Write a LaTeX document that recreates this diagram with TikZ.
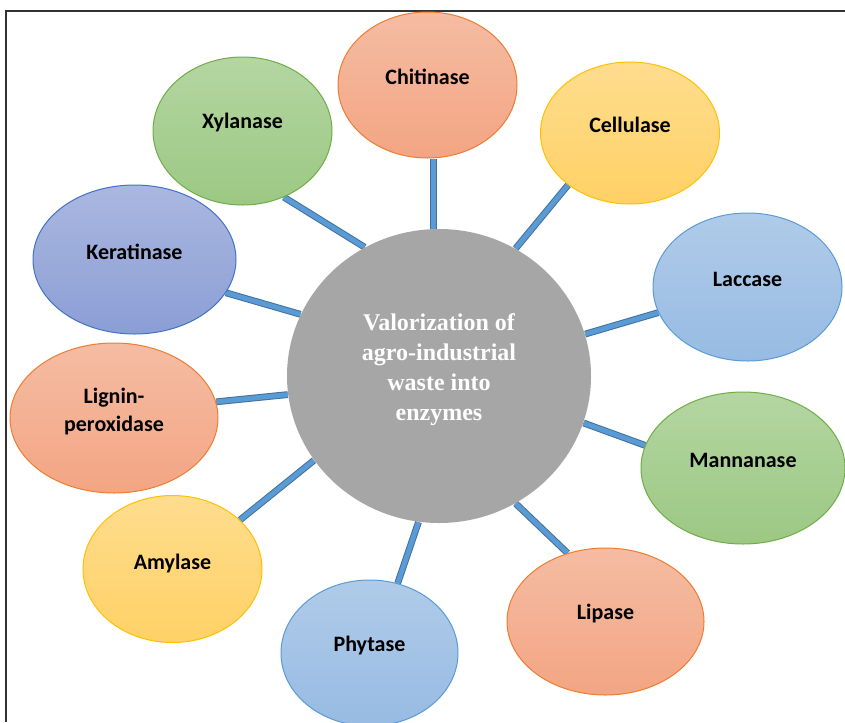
\documentclass[tikz,border=0pt]{standalone}
\usepackage{fontspec}
\setmainfont{Liberation Serif}
\newfontfamily\labfont{Carlito}
\usetikzlibrary{backgrounds,shapes.geometric}
\definecolor{orT}{HTML}{F5BCA3}
\definecolor{orB}{HTML}{F3A583}
\definecolor{orE}{HTML}{ED7D31}
\definecolor{grT}{HTML}{B4D6A2}
\definecolor{grB}{HTML}{9CC883}
\definecolor{grE}{HTML}{70AD47}
\definecolor{yeT}{HTML}{FFDD8E}
\definecolor{yeB}{HTML}{FFD166}
\definecolor{yeE}{HTML}{FFC000}
\definecolor{lbT}{HTML}{B0CBE9}
\definecolor{lbB}{HTML}{97BBE3}
\definecolor{lbE}{HTML}{5B9BD5}
\definecolor{puT}{HTML}{AAB8E0}
\definecolor{puB}{HTML}{8B9ED5}
\definecolor{puE}{HTML}{4472C4}
\definecolor{hubgray}{HTML}{A6A6A6}
\definecolor{linkfill}{HTML}{5B9BD5}
\definecolor{linkedge}{HTML}{41719C}
\definecolor{framec}{HTML}{333333}
\begin{document}
\begin{tikzpicture}[x=0.75pt,y=-0.75pt,
  bub/.style n args={2}{ellipse, inner sep=0pt, line width=0.75pt,
    minimum width=#1*0.75pt, minimum height=#2*0.75pt},
  orange/.style={draw=orE, top color=orT, bottom color=orB},
  green/.style={draw=grE, top color=grT, bottom color=grB},
  yellow/.style={draw=yeE, top color=yeT, bottom color=yeB},
  lblue/.style={draw=lbE, top color=lbT, bottom color=lbB},
  purple/.style={draw=puE, top color=puT, bottom color=puB},
  lab/.style={font=\labfont\bfseries\fontsize{16.5}{21}\selectfont, text=black, align=center, inner sep=0pt},
  hubtext/.style={font=\bfseries\fontsize{18}{22.5}\selectfont, text=white, align=center, inner sep=0pt},
  link/.style={draw=linkedge, line width=0.75pt, double=linkfill, double distance=3.6pt}
]
\useasboundingbox (0,0) rectangle (845,722);
\draw[framec, line width=0.9pt] (6,722) -- (6,11) -- (845,11);

% hub
\node[bub={304}{294}, fill=hubgray] (hub) at (439,376) {};
\node[hubtext] (hubt) at ([yshift=5pt]hub.center) {Valorization of\\agro-industrial\\waste into\\enzymes};

% enzymes
\node[bub={179}{146}, orange] (chi) at (427.5,85) {};
\node[bub={179}{142}, yellow] (cel) at (630,133) {};
\node[bub={189}{148}, lblue]  (lac) at (747.5,287) {};
\node[bub={204}{152}, green]  (man) at (743,468) {};
\node[bub={197}{147}, orange] (lip) at (605.5,621.5) {};
\node[bub={177}{146}, lblue]  (phy) at (369.5,653) {};
\node[bub={179}{147}, yellow] (amy) at (172.5,569) {};
\node[bub={208}{150}, orange] (lig) at (114,418) {};
\node[bub={203}{149}, purple] (ker) at (134.5,259.5) {};
\node[bub={179}{148}, green]  (xyl) at (242.5,131) {};

\node[lab] (chit) at ([yshift=6pt]chi.center) {Chitinase};
\node[lab] (celt) at ([yshift=6pt]cel.center) {Cellulase};
\node[lab] (lact) at ([yshift=6pt]lac.center) {Laccase};
\node[lab] (mant) at ([yshift=6pt]man.center) {Mannanase};
\node[lab] (lipt) at ([yshift=6pt]lip.center) {Lipase};
\node[lab] (phyt) at ([yshift=6pt]phy.center) {Phytase};
\node[lab] (amyt) at ([yshift=4pt]amy.center) {Amylase};
\node[lab] (ligt) at ([yshift=5pt]lig.center) {Lignin-\\peroxidase};
\node[lab] (kert) at ([yshift=6pt]ker.center) {Keratinase};
\node[lab] (xylt) at ([yshift=6pt]xyl.center) {Xylanase};

% connectors
\begin{pgfonlayer}{background}
\fill[white] (0,0) rectangle (845,722);
\draw[link] (hub.92.3) -- (hub.92.3 |- chi.south);
\draw[link] (hub.59.3) -- (cel.220.9);
\draw[link] (hub.16.8) -- (lac.196.2);
\draw[link] (hub.-18.9) -- (man.167.3);
\draw[link] (hub.-59.1) -- (lip.119.0);
\draw[link] (hub.262.6) -- (phy.68.4);
\draw[link] (hub.214.4) -- (amy.36.2);
\draw[link] (hub.187.1) -- (lig.9.0);
\draw[link] (hub.156.8) -- (ker.-20.3);
\draw[link] (hub.120.1) -- (xyl.-58.5);
\end{pgfonlayer}
\end{tikzpicture}
\end{document}
